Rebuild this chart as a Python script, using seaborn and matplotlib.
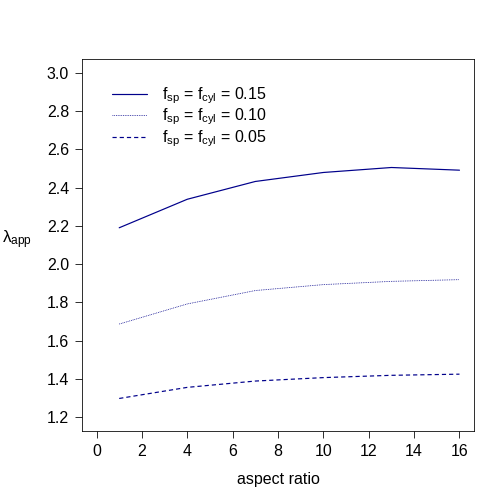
import matplotlib
matplotlib.use("Agg")
import matplotlib.pyplot as plt
import seaborn as sns
import pandas as pd

aspect_ratio = [1, 4, 7, 10, 13, 16]
lam_015 = [2.19, 2.339, 2.432, 2.479, 2.505, 2.491]
lam_010 = [1.687, 1.792, 1.862, 1.893, 1.910, 1.919]
lam_005 = [1.298, 1.356, 1.389, 1.407, 1.419, 1.425]
series_labels = [r"$\mathregular{f_{sp}}$ = $\mathregular{f_{cyl}}$ = 0.15",
                 r"$\mathregular{f_{sp}}$ = $\mathregular{f_{cyl}}$ = 0.10",
                 r"$\mathregular{f_{sp}}$ = $\mathregular{f_{cyl}}$ = 0.05"]

rows = []
for lab, vals in zip(series_labels, [lam_015, lam_010, lam_005]):
    for x, y in zip(aspect_ratio, vals):
        rows.append({"aspect ratio": x, "lam": y, "series": lab})
df = pd.DataFrame(rows)

sns.set_style("white")
plt.rcParams["font.family"] = ["Liberation Sans", "DejaVu Sans"]
plt.rcParams["mathtext.fontset"] = "custom"
plt.rcParams["mathtext.rm"] = "Liberation Sans"
plt.rcParams["mathtext.it"] = "Liberation Sans"
plt.rcParams["text.color"] = "black"
plt.rcParams["axes.labelcolor"] = "black"
plt.rcParams["xtick.color"] = "black"
plt.rcParams["ytick.color"] = "black"

fig = plt.figure(figsize=(7, 7), dpi=72)
ax = fig.add_axes([82/504, 1-431/504, (474-82)/504, (431-59)/504])

color = "#00008B"
dashes = {series_labels[0]: "", series_labels[1]: (1, 1.2), series_labels[2]: (3.5, 2.5)}
widths = {series_labels[0]: 1.2, series_labels[1]: 0.8, series_labels[2]: 1.2}
for lab in series_labels:
    sub = df[df["series"] == lab]
    sns.lineplot(data=sub, x="aspect ratio", y="lam", ax=ax, color=color,
                 linewidth=widths[lab], label=lab)
    line = ax.lines[-1]
    d = dashes[lab]
    if d:
        line.set_dashes(d)

ax.set_xlim(-0.64, 16.64)
ax.set_ylim(1.128, 3.072)
ax.set_xticks(range(0, 17, 2))
yt = [1.2, 1.4, 1.6, 1.8, 2.0, 2.2, 2.4, 2.6, 2.8, 3.0]
ax.set_yticks(yt)
ax.set_yticklabels([f"{v:.1f}" for v in yt])
ax.tick_params(axis="both", direction="out", length=7, width=0.8, labelsize=16,
               color="black", labelcolor="black", left=True, bottom=True, pad=6)
for s in ax.spines.values():
    s.set_color("black")
    s.set_linewidth(0.8)
ax.set_xlabel("aspect ratio", fontsize=16, labelpad=13, color="black")
ax.set_ylabel("")
fig.text(2/504, 1-240/504, r"$\mathregular{\lambda_{app}}$", fontsize=17, va="center", ha="left",
         color="black")

leg = ax.legend(loc="upper left", bbox_to_anchor=(0.06, 0.946), frameon=False, fontsize=16,
                handlelength=2.2, handletextpad=0.9, labelspacing=0.05, borderaxespad=0)
for t in leg.get_texts():
    t.set_color("black")

fig.savefig("out.png", dpi=72)
